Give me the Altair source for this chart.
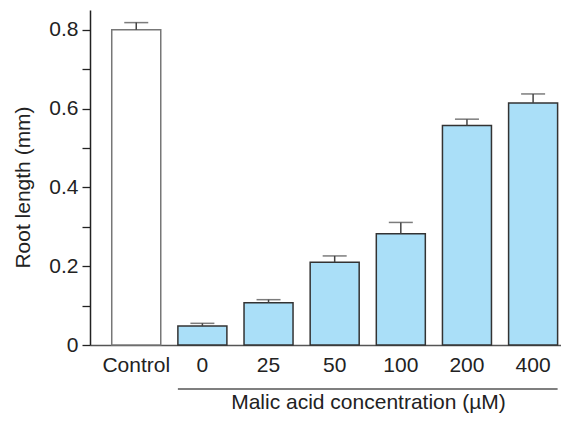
import altair as alt
import pandas as pd

categories = ["Control", "0", "25", "50", "100", "200", "400"]
root_length = [0.800, 0.048, 0.107, 0.210, 0.282, 0.557, 0.614]
sem = [0.018, 0.007, 0.008, 0.016, 0.029, 0.016, 0.023]
fills = ["#ffffff", "#aadff8", "#aadff8", "#aadff8", "#aadff8", "#aadff8", "#aadff8"]
strokes = ["#777777", "#333333", "#333333", "#333333", "#333333", "#333333", "#333333"]
y_ticks = [0, 0.1, 0.2, 0.3, 0.4, 0.5, 0.6, 0.7, 0.8]

df = pd.DataFrame({
    "cat": categories,
    "val": root_length,
    "top": [v + e for v, e in zip(root_length, sem)],
})

FONT = "Liberation Sans"
FS = 21

xscale = alt.Scale(domain=categories, paddingInner=0.259, paddingOuter=0.19, align=0.865)
yscale = alt.Scale(domain=[0, 0.85], nice=False, zero=True)

x_enc = alt.X(
    "cat:N", scale=xscale, sort=categories,
    axis=alt.Axis(
        title="Malic acid concentration (µM)", labelAngle=0, ticks=False,
        labelPadding=9, labelFontSize=FS, labelColor="#222222", labelFont=FONT,
        domainColor="#555555", domainWidth=1.5,
        titleFontSize=FS, titleFont=FONT, titleFontWeight="normal", titleColor="#222222",
        titleX=278, titleY=63, titleBaseline="alphabetic", titleAnchor="start", titleAlign="center",
    ),
)

y_enc = alt.Y(
    "val:Q", scale=yscale,
    axis=alt.Axis(
        title="Root length (mm)", values=y_ticks, grid=False,
        labelExpr="datum.value == 0 ? '0' : (round(datum.value*10) % 2 == 0 ? format(datum.value, '.1f') : '')",
        labelFontSize=FS, labelColor="#222222", labelFont=FONT, labelPadding=4,
        tickSize=8, tickColor="#222222", tickWidth=1.3,
        domainColor="#222222", domainWidth=1.5,
        titleFontSize=FS, titleFont=FONT, titleFontWeight="normal", titleColor="#222222",
        titleX=-67, titleY=177, titleBaseline="middle", titleAlign="center", titleAngle=-90,
    ),
)

base = alt.Chart(df)

bars = base.mark_bar(strokeWidth=1.5).encode(
    x=x_enc,
    y=y_enc,
    fill=alt.Fill("cat:N", scale=alt.Scale(domain=categories, range=fills), legend=None),
    stroke=alt.Stroke("cat:N", scale=alt.Scale(domain=categories, range=strokes), legend=None),
)

err = base.mark_rule(color="#444444", strokeWidth=1.5).encode(
    x=alt.X("cat:N", scale=xscale, sort=categories),
    y=alt.Y("val:Q", scale=yscale),
    y2="top:Q",
)

caps = base.mark_tick(color="#444444", size=24, thickness=1.5).encode(
    x=alt.X("cat:N", scale=xscale, sort=categories),
    y=alt.Y("top:Q", scale=yscale),
)

bracket = alt.Chart(pd.DataFrame({"a": ["0"], "b": ["400"]})).mark_rule(
    color="#555555", strokeWidth=1.5
).encode(
    x=alt.X("a:N", scale=xscale, bandPosition=0),
    x2=alt.X2("b:N", bandPosition=1),
    y=alt.value(379),
)

chart = alt.layer(bars, err, caps, bracket).properties(
    width=471, height=335,
    background="white",
    autosize=alt.AutoSizeParams(type="none"),
    padding={"left": 82, "top": 2, "right": 0, "bottom": 68},
).configure_view(strokeWidth=0)

chart.save("out.html", embed_options={"renderer": "svg", "actions": False})
